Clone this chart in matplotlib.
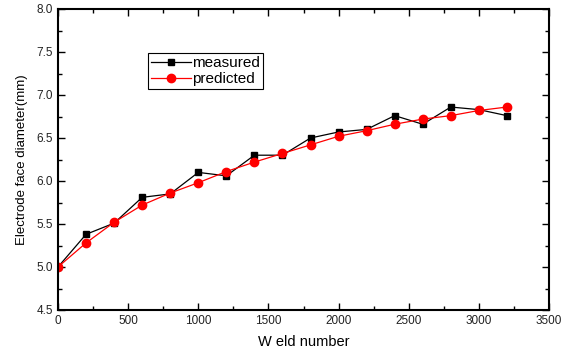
import matplotlib
matplotlib.use("Agg")
import matplotlib.pyplot as plt
from matplotlib.ticker import MultipleLocator

plt.rcParams['font.family'] = ['Liberation Sans', 'DejaVu Sans']

weld_number = [0, 200, 400, 600, 800, 1000, 1200, 1400, 1600, 1800, 2000, 2200, 2400, 2600, 2800, 3000, 3200]
measured = [5.00, 5.38, 5.51, 5.81, 5.85, 6.10, 6.06, 6.30, 6.30, 6.50, 6.57, 6.60, 6.76, 6.66, 6.86, 6.83, 6.76]
predicted = [5.00, 5.28, 5.52, 5.72, 5.86, 5.98, 6.11, 6.22, 6.32, 6.42, 6.52, 6.585, 6.66, 6.72, 6.76, 6.82, 6.86]

fig = plt.figure(figsize=(5.65, 3.56), dpi=100)
ax = fig.add_axes([58/565, 1-310/356, 491/565, 301/356])

ax.plot(weld_number, measured, color='black', lw=0.9, marker='s', ms=5,
        mfc='black', mec='black', label='measured')
ax.plot(weld_number, predicted, color='red', lw=0.9, marker='o', ms=6,
        mfc='red', mec='red', label='predicted')

ax.set_xlim(0, 3500)
ax.set_ylim(4.5, 8.0)
ax.xaxis.set_major_locator(MultipleLocator(500))
ax.xaxis.set_minor_locator(MultipleLocator(250))
ax.yaxis.set_major_locator(MultipleLocator(0.5))
ax.yaxis.set_minor_locator(MultipleLocator(0.25))
ax.tick_params(which='both', direction='in', top=True, right=True, labelsize=8.5,
               width=1.0, colors='black', labelcolor='#222222')
ax.tick_params(which='major', length=5)
ax.tick_params(which='minor', length=3)
for s in ax.spines.values():
    s.set_linewidth(1.5)

ax.set_xlabel('W eld number', fontsize=10.5, labelpad=6)
ax.set_ylabel('Electrode face diameter(mm)', fontsize=9.5, labelpad=6)

leg = ax.legend(loc='upper left', bbox_to_anchor=((148-58)/491, (310-53)/301),
                borderaxespad=0, fancybox=False, edgecolor='black', framealpha=1,
                fontsize=11, handlelength=2.6, handletextpad=0.1, borderpad=0.2,
                labelspacing=0.15)
leg.get_frame().set_linewidth(0.8)

fig.savefig('out.png', dpi=100)
